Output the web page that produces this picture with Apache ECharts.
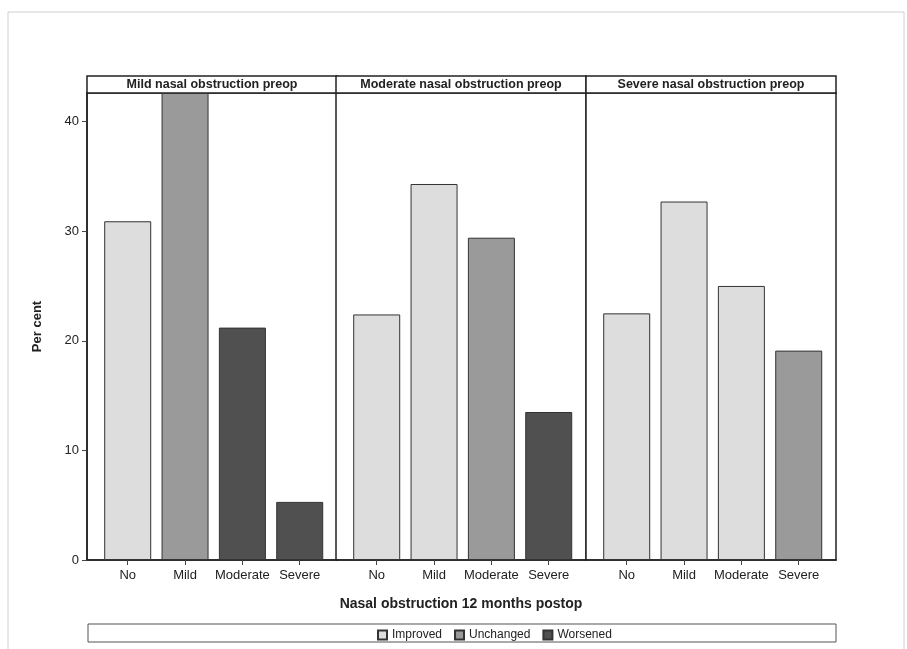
<!DOCTYPE html>
<html>
<head>
<meta charset="utf-8">
<script src="https://cdn.jsdelivr.net/npm/echarts@6/dist/echarts.min.js"></script>
<style>
html,body{margin:0;padding:0;background:#fff;}
#c{width:907px;height:649px;}
</style>
</head>
<body>
<div id="c"></div>
<script>
const categories = ['No', 'Mild', 'Moderate', 'Severe'];
const panels = ['Mild nasal obstruction preop', 'Moderate nasal obstruction preop', 'Severe nasal obstruction preop'];
const outcomes = ['Improved', 'Unchanged', 'Worsened'];
const mildPreop = [30.9, 42.6, 21.2, 5.3];
const moderatePreop = [22.4, 34.3, 29.4, 13.5];
const severePreop = [22.5, 32.7, 25.0, 19.1];
const mildOutcome = ['Improved', 'Unchanged', 'Worsened', 'Worsened'];
const moderateOutcome = ['Improved', 'Improved', 'Unchanged', 'Worsened'];
const severeOutcome = ['Improved', 'Improved', 'Improved', 'Unchanged'];
const yTicks = [0, 10, 20, 30, 40];
const yMax = 42.6;

const panelValues = [mildPreop, moderatePreop, severePreop];
const panelOutcomes = [mildOutcome, moderateOutcome, severeOutcome];
const colors = { Improved: '#dddddd', Unchanged: '#9a9a9a', Worsened: '#505050' };

const FONT = '"Liberation Sans", Arial, sans-serif';
const gridLefts = [87, 336, 586];
const gridWidth = 250;
const gridTop = 93;
const gridBottom = 89;
const headerH = 17;

const grids = [], xAxes = [], yAxes = [], series = [], graphics = [];
panels.forEach((p, pi) => {
  grids.push({ left: gridLefts[pi], top: gridTop, width: gridWidth, bottom: gridBottom,
    show: true, borderColor: '#222', borderWidth: 1.5, backgroundColor: '#fff' });
  xAxes.push({
    type: 'value', gridIndex: pi, min: -0.71, max: 3.65,
    splitLine: { show: false },
    axisLine: { show: true, onZero: false, lineStyle: { color: '#222', width: 1.5 } },
    axisTick: { show: true, length: 5, customValues: [0, 1, 2, 3], lineStyle: { color: '#444' } },
    axisLabel: { customValues: [0, 1, 2, 3], formatter: v => categories[v], margin: 9,
      color: '#222', fontSize: 13, fontFamily: FONT },
    name: pi === 1 ? 'Nasal obstruction 12 months postop' : '',
    nameLocation: 'middle', nameGap: 37,
    nameTextStyle: { fontSize: 14, fontWeight: 'bold', color: '#222', fontFamily: FONT }
  });
  yAxes.push({
    type: 'value', gridIndex: pi, min: 0, max: yMax, interval: 10,
    show: pi === 0,
    splitLine: { show: false },
    axisLine: { show: true, onZero: false, lineStyle: { color: '#222', width: 1.5 } },
    axisTick: { show: true, length: 5, customValues: yTicks, lineStyle: { color: '#444' } },
    axisLabel: { customValues: yTicks, color: '#222', fontSize: 13, fontFamily: FONT, margin: 8 },
    name: pi === 0 ? 'Per cent' : '', nameLocation: 'middle', nameGap: 43,
    nameTextStyle: { fontSize: 13, fontWeight: 'bold', color: '#222', fontFamily: FONT }
  });
  outcomes.forEach(o => {
    const data = [];
    categories.forEach((c, ci) => {
      if (panelOutcomes[pi][ci] === o) data.push([ci, panelValues[pi][ci]]);
    });
    series.push({
      type: 'bar', name: o, xAxisIndex: pi, yAxisIndex: pi,
      barWidth: 47, barGap: '-100%', data: data,
      itemStyle: { color: colors[o], borderColor: '#333', borderWidth: 1 },
      emphasis: { disabled: true }, silent: true
    });
  });
  graphics.push({
    type: 'rect', shape: { x: gridLefts[pi], y: gridTop - headerH, width: gridWidth, height: headerH },
    style: { fill: '#fff', stroke: '#222', lineWidth: 1.5 }
  });
  graphics.push({
    type: 'text', x: gridLefts[pi] + gridWidth / 2, y: gridTop - headerH / 2,
    style: { text: p, fill: '#222', font: 'bold 12.5px ' + FONT, align: 'center', verticalAlign: 'middle' }
  });
});

graphics.push({
  type: 'rect', z: -10, shape: { x: 8, y: 12, width: 896, height: 660 },
  style: { fill: 'none', stroke: '#d0d0d0', lineWidth: 1 }
});
graphics.push({
  type: 'rect', z: -5, shape: { x: 88, y: 624, width: 748, height: 18 },
  style: { fill: '#fff', stroke: '#555', lineWidth: 1 }
});

const chart = echarts.init(document.getElementById('c'));
chart.setOption({
  animation: false,
  backgroundColor: '#fff',
  grid: grids,
  xAxis: xAxes,
  yAxis: yAxes,
  series: series,
  legend: {
    data: outcomes, left: 372, top: 624, itemWidth: 9, itemHeight: 9, itemGap: 12,
    icon: 'rect', selectedMode: false,
    textStyle: { fontSize: 12, color: '#222', fontFamily: FONT }
  },
  graphic: graphics
});
</script>
</body>
</html>
